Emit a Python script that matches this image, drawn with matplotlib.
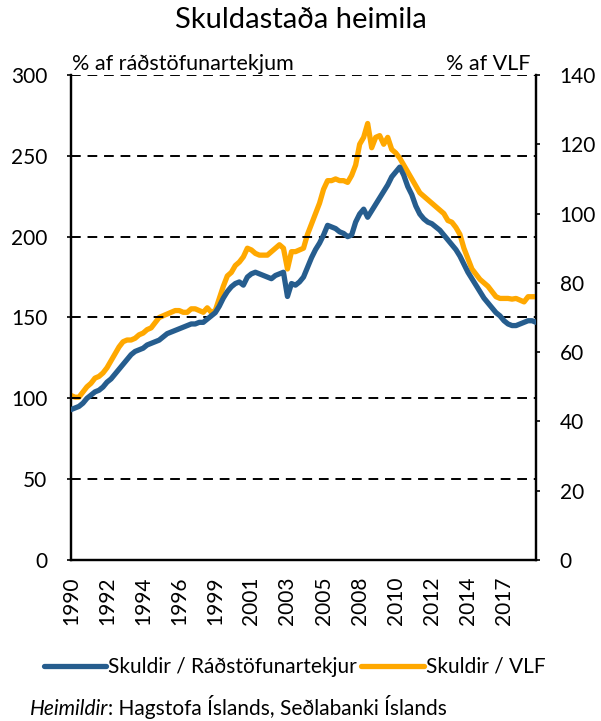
import pandas as pd
import matplotlib
matplotlib.use('Agg')
import matplotlib.pyplot as plt

plt.rcParams['font.family'] = ['Lato', 'DejaVu Sans']

# Ársfjórðungsleg gögn 1990Q1 - 2019Q1
quarters = pd.period_range('1990Q1', periods=117, freq='Q')

# Skuldir / ráðstöfunartekjur (%) - vinstri ás
skuldir_rt = [
    93, 94, 95, 97,
    100, 102, 104, 105,
    107, 110, 112, 115,
    118, 121, 124, 127,
    129, 130, 131, 133,
    134, 135, 136, 138,
    140, 141, 142, 143,
    144, 145, 146, 146,
    147, 147, 149, 151,
    153, 157, 162, 166,
    169, 171, 172, 170,
    175, 177, 178, 177,
    176, 175, 174, 176,
    177, 178, 163, 171,
    170, 172, 175, 181,
    187, 192, 196, 201,
    207, 206, 205, 203,
    202, 200, 201, 209,
    214, 217, 212, 216,
    220, 224, 228, 232,
    237, 240, 243, 238,
    231, 226, 219, 214,
    211, 209, 208, 206,
    204, 201, 198, 195,
    192, 188, 183, 178,
    174, 170, 166, 162,
    159, 156, 153, 151,
    148, 146, 145, 145,
    146, 147, 148, 148,
    147,
]

# Skuldir / VLF (%) - hægri ás
skuldir_vlf = [
    47.5, 47, 47, 48.5,
    50, 51, 52.5, 53,
    54, 55.5, 57.5, 59.5,
    61.5, 63, 63.5, 63.5,
    64, 65, 65.5, 66.5,
    67, 68.5, 70, 70.5,
    71, 71.5, 72, 72,
    71.5, 71.5, 72.5, 72.5,
    72, 71.5, 72.8, 71.5,
    72, 75.5, 79, 82,
    83, 85, 86, 87.5,
    90, 89.5, 88.5, 88,
    88, 88, 89, 90,
    91, 90, 84, 89,
    89, 89.5, 90, 94,
    97, 100, 103, 107,
    109.5, 109.5, 110, 109.5,
    109.5, 109, 111, 114,
    120, 122, 126, 119,
    122, 122.5, 120, 122,
    118.5, 117.5, 116, 114,
    112, 110, 108, 106,
    105, 104, 103, 102,
    101, 100, 98, 97.5,
    96, 94, 90, 87,
    84, 82.5, 81, 80,
    79, 77.5, 76, 75.5,
    75.5, 75.5, 75.3, 75.5,
    75, 74.5, 76, 76,
    76,
]

left_ticks = [0, 50, 100, 150, 200, 250, 300]
right_ticks = [0, 20, 40, 60, 80, 100, 120, 140]

blue = '#265d8e'
orange = '#ffa800'

fig = plt.figure(figsize=(6.01, 7.21), dpi=100)
ax = fig.add_axes([0.118, 0.2233, 0.774, 0.6727])
ax2 = ax.twinx()

x = list(range(len(quarters)))
l1, = ax.plot(x, skuldir_rt, color=blue, lw=3.8, solid_capstyle='round',
              label='Skuldir / Ráðstöfunartekjur', zorder=3)
l2, = ax2.plot(x, skuldir_vlf, color=orange, lw=3.8, solid_capstyle='round',
               label='Skuldir / VLF', zorder=3)
ax.set_zorder(ax2.get_zorder() + 1)
ax.patch.set_visible(False)

ax.set_xlim(0, len(x) - 1)
ax.set_ylim(0, 300)
ax2.set_ylim(0, 140)
ax.set_yticks(left_ticks)
ax2.set_yticks(right_ticks)

# ár á 9 ársfjórðunga fresti
tick_pos = x[::9]
ax.set_xticks(tick_pos)
ax.set_xticklabels([str(quarters[i].year) for i in tick_pos], rotation=90)

# láréttar brotalínur
for v in left_ticks[1:]:
    ax.axhline(v, color='black', lw=1.4, ls=(0, (5, 3.5)), zorder=1)

for a in (ax, ax2):
    a.spines['top'].set_visible(False)
    for s in ('left', 'right', 'bottom'):
        a.spines[s].set_linewidth(1.6)
    a.tick_params(labelsize=15, length=3, width=1.2)
ax.tick_params(axis='x', length=0, pad=12)
ax.tick_params(axis='y', pad=14)
ax2.tick_params(axis='y', pad=14)

fig.text(0.5, 0.972, 'Skuldastaða heimila', ha='center', va='center', fontsize=21)
fig.text(0.12, 0.9035, '% af ráðstöfunartekjum', ha='left', va='baseline', fontsize=15.5)
fig.text(0.882, 0.9035, '% af VLF', ha='right', va='baseline', fontsize=15.5)

fig.legend(handles=[l1, l2], loc='center', bbox_to_anchor=(0.49, 0.075), ncol=2,
           frameon=False, fontsize=15, handlelength=3.0, handletextpad=0.1,
           columnspacing=0.2)

t1 = fig.text(0.05, 0.008, 'Heimildir', style='italic', fontsize=15, ha='left', va='baseline')
fig.text(0, 0, '', fontsize=1)
ax.annotate(': Hagstofa Íslands, Seðlabanki Íslands', xy=(1, 0), xycoords=t1,
            fontsize=15, ha='left', va='bottom', annotation_clip=False)

fig.savefig('out.png', dpi=100)
